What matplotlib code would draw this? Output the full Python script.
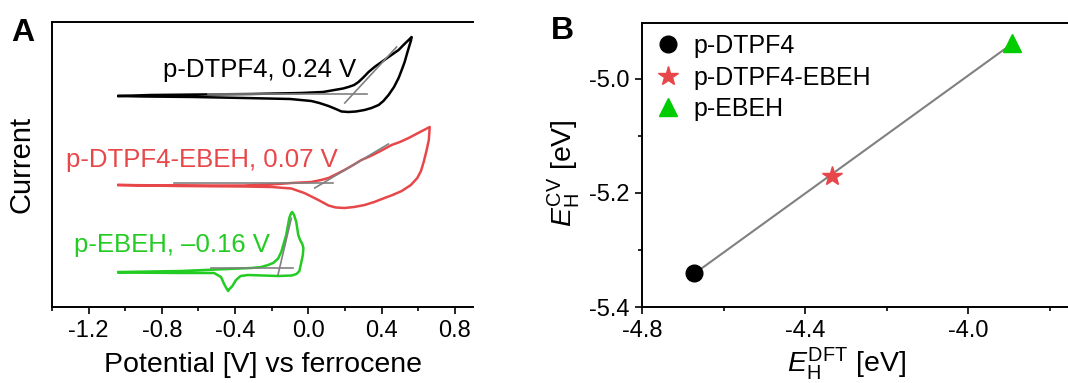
import numpy as np
import matplotlib
matplotlib.use('Agg')
from matplotlib import pyplot as plt
from matplotlib.ticker import MultipleLocator

plt.rcParams['font.family'] = ['Liberation Sans', 'DejaVu Sans']
plt.rcParams['mathtext.fontset'] = 'custom'
plt.rcParams['mathtext.rm'] = 'Liberation Sans'
plt.rcParams['mathtext.it'] = 'Liberation Sans:italic'
plt.rcParams['axes.unicode_minus'] = False

# --- panel A: cyclic voltammograms (potential in V vs Fc, current in a.u.) ---
dtpf4_v = [-1.036, -0.860, -0.586, -0.312, -0.038, 0.080, 0.142, 0.190, 0.219, 0.250, 0.274, 0.300, 0.329,
           0.365, 0.400, 0.450, 0.493, 0.525, 0.548, 0.564,
           0.560, 0.553, 0.540, 0.526, 0.510, 0.493, 0.468, 0.438, 0.410, 0.384, 0.345, 0.307, 0.260,
           0.219, 0.181, 0.150, 0.110, 0.060, 0.016, -0.100, -0.351, -0.625, -0.899, -1.036]
dtpf4_i = [21.1, 21.2, 21.25, 21.3, 21.4, 21.5, 21.7, 21.85, 22.0, 22.2, 22.5, 22.95, 23.5,
           24.05, 24.5, 25.15, 25.7, 26.3, 26.7, 27.0,
           26.6, 26.2, 25.4, 24.5, 23.7, 22.9, 22.0, 21.2, 20.6, 20.2, 19.9, 19.7, 19.55,
           19.5, 19.55, 19.8, 20.1, 20.4, 20.6, 20.8, 20.9, 21.0, 21.05, 21.1]

mix_v = [-1.036, -0.712, -0.351, -0.164, -0.093, 0.016, 0.070, 0.110, 0.155, 0.197, 0.245, 0.290, 0.340,
         0.384, 0.455, 0.500, 0.548, 0.600, 0.663,
         0.658, 0.645, 0.630, 0.615, 0.595, 0.560, 0.510, 0.460, 0.416, 0.360, 0.307, 0.250, 0.197,
         0.150, 0.110, 0.055, -0.022, -0.093, -0.200, -0.351, -0.712, -1.036]
mix_i = [12.2, 12.15, 12.15, 12.3, 12.4, 12.5, 12.7, 12.9, 13.3, 13.7, 14.2, 14.7, 15.1,
         15.5, 16.2, 16.5, 16.9, 17.4, 18.0,
         16.7, 15.6, 14.5, 13.6, 12.9, 12.2, 11.6, 11.2, 10.9, 10.5, 10.2, 10.0, 9.9,
         9.95, 10.15, 10.7, 11.4, 11.85, 12.0, 12.05, 12.1, 12.2]

ebeh_v = [-1.036, -0.696, -0.312, -0.258, -0.220, -0.192, -0.165, -0.148, -0.121, -0.104, -0.095, -0.088,
          -0.078, -0.066, -0.055, -0.045, -0.033, -0.027, -0.030, -0.038, -0.049, -0.065, -0.090, -0.164,
          -0.329, -0.370, -0.395, -0.415, -0.433, -0.438, -0.448, -0.460, -0.477, -0.515, -0.696, -1.036]
ebeh_i = [3.5, 3.6, 3.9, 4.0, 4.2, 4.4, 4.85, 5.5, 7.2, 8.9, 9.35, 9.5,
          9.2, 8.5, 7.2, 6.7, 6.3, 5.9, 5.2, 4.5, 3.6, 3.3, 3.15, 3.1,
          3.2, 3.1, 2.7, 2.1, 1.75, 1.6, 1.9, 2.3, 3.0, 3.4, 3.4, 3.45]

# onset construction: baseline segment and tangent segment (V, I)
dtpf4_base = ([-0.548, 0.318], [21.3, 21.3])
dtpf4_tan = ([0.199, 0.482], [20.4, 26.0])
mix_base = ([-0.734, 0.137], [12.4, 12.4])
mix_tan = ([0.035, 0.437], [11.9, 16.3])
ebeh_base = ([-0.532, -0.082], [3.87, 3.87])
ebeh_tan = ([-0.166, -0.093], [3.2, 8.87])

labels_a = ['p-DTPF4, 0.24 V', 'p-DTPF4-EBEH, 0.07 V', 'p-EBEH, \u20130.16 V']

# --- panel B: HOMO levels ---
names = ['p-DTPF4', 'p-DTPF4-EBEH', 'p-EBEH']
e_dft = [-4.672, -4.334, -3.892]
e_cv = [-5.34, -5.17, -4.937]

black = 'black'
red = '#E8474A'
green = '#22CC22'
gray = '#808080'

fig = plt.figure(figsize=(10.68, 3.83), dpi=100)
ax1 = fig.add_axes([0.0487, 0.1984, 0.3943, 0.7442])
ax2 = fig.add_axes([0.6011, 0.1984, 0.3989, 0.7416])

for v, i, col in [(dtpf4_v, dtpf4_i, black), (mix_v, mix_i, red), (ebeh_v, ebeh_i, green)]:
    ax1.plot(v, i, color=col, lw=1.8, solid_joinstyle='round')
for seg in [dtpf4_base, dtpf4_tan, mix_base, mix_tan, ebeh_base, ebeh_tan]:
    ax1.plot(seg[0], seg[1], color=gray, lw=1.2)

ax1.text(-0.268, 23.7, labels_a[0], color=black, fontsize=18.5, ha='center', va='center')
ax1.text(-0.58, 14.7, labels_a[1], color=red, fontsize=18.5, ha='center', va='center')
ax1.text(-0.745, 6.2, labels_a[2], color=green, fontsize=18.5, ha='center', va='center')

ax1.set_xlim(-1.4, 0.9)
ax1.set_ylim(0, 28.5)
ax1.set_yticks([])
ax1.set_xticks([-1.2, -0.8, -0.4, 0.0, 0.4, 0.8])
ax1.xaxis.set_minor_locator(MultipleLocator(0.2))
ax1.set_xlabel('Potential [V] vs ferrocene', fontsize=20.5)
ax1.xaxis.set_label_coords(0.5, -0.205)
ax1.xaxis.label.set_va('center')
ax1.set_ylabel('Current', fontsize=21)
ax1.yaxis.set_label_coords(-0.072, 0.5)
ax1.yaxis.label.set_va('center')

# panel B
ax2.plot(e_dft[0], e_cv[0], 'o', color=black, ms=12, label=names[0], zorder=3)
ax2.plot(e_dft[1], e_cv[1], '*', color=red, ms=15, label=names[1], zorder=3)
ax2.plot(e_dft[2], e_cv[2], '^', color='#00CC00', ms=13, label=names[2], zorder=3)
k, b = np.polyfit(e_dft, e_cv, 1)
xs = np.array([min(e_dft), max(e_dft)])
ax2.plot(xs, k * xs + b, color=gray, lw=1.5, zorder=2)

ax2.set_xlim(-4.8, -3.755)
ax2.set_ylim(-5.4, -4.902)
ax2.set_xticks([-4.8, -4.4, -4.0])
ax2.xaxis.set_minor_locator(MultipleLocator(0.2))
ax2.set_yticks([-5.4, -5.2, -5.0])
ax2.yaxis.set_minor_locator(MultipleLocator(0.1))
ax2.set_xlabel(r'$\mathit{E}_\mathrm{H}^\mathrm{DFT}$ [eV]', fontsize=20.5)
ax2.xaxis.set_label_coords(0.48, -0.2)
ax2.xaxis.label.set_va('center')
ax2.set_ylabel(r'$\mathit{E}_\mathrm{H}^\mathrm{CV}$ [eV]', fontsize=20.5)
ax2.yaxis.set_label_coords(-0.185, 0.47)
ax2.yaxis.label.set_va('center')
ax2.legend(loc='upper left', frameon=False, fontsize=18, handletextpad=0.4,
           labelspacing=0.3, borderaxespad=0.3, handlelength=1.2, borderpad=0.15)

for ax in (ax1, ax2):
    ax.spines['right'].set_visible(False)
    for s in ax.spines.values():
        s.set_linewidth(1.4)
    ax.tick_params(which='both', direction='out', labelsize=17, width=1.2, pad=4)
    ax.tick_params(which='major', length=5)
    ax.tick_params(which='minor', length=3)
ax1.tick_params(axis='y', which='both', left=False)

fig.text(0.0215, 0.913, 'A', fontsize=23, fontweight='bold', ha='center', va='center')
fig.text(0.527, 0.92, 'B', fontsize=23, fontweight='bold', ha='center', va='center')

fig.savefig('out.png', dpi=100)
